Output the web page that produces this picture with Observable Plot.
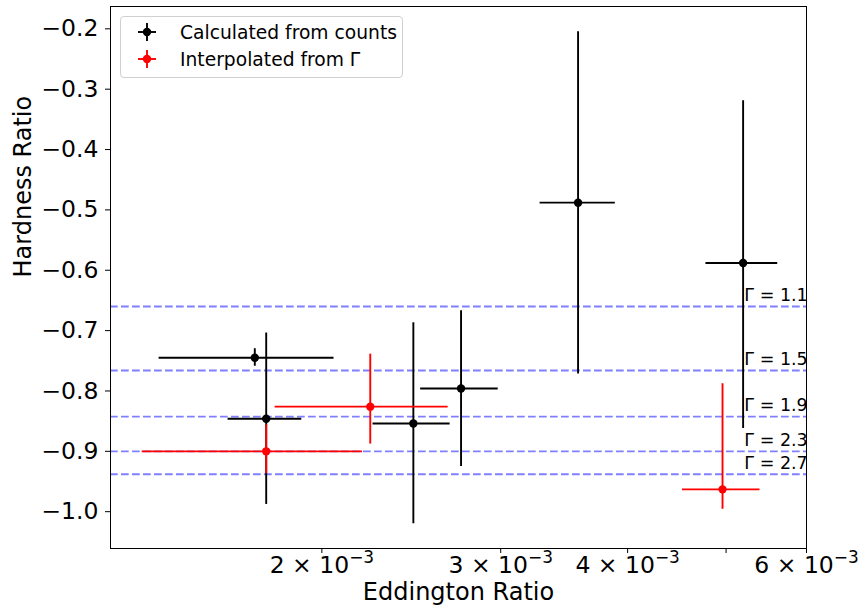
<!DOCTYPE html>
<html>
<head>
<meta charset="utf-8">
<script src="https://cdn.jsdelivr.net/npm/d3@7"></script>
<script src="https://cdn.jsdelivr.net/npm/@observablehq/plot@0.6"></script>
<style>
  body { margin: 0; background: #fff; }
  #wrap { position: relative; width: 859px; height: 610px; font-family: "DejaVu Sans", sans-serif; }
  #legend { position: absolute; left: 120px; top: 16px; width: 283px; height: 62px;
    border: 1px solid #d0d0d0; border-radius: 4px; background: rgba(255,255,255,0.85);
    box-sizing: border-box; font-size: 18.7px; color: #000; }
  .row { position: absolute; left: 0; height: 20px; display: flex; align-items: center; white-space: nowrap; }
  .row svg { margin-left: 16px; }
  .row span { margin-left: 23px; }
</style>
</head>
<body>
<div id="wrap">
  <div id="chart"></div>
  <div id="legend"></div>
</div>
<script>
// Calculated from counts (black)
const blackX   = [1.718e-3, 1.763e-3, 2.461e-3, 2.742e-3, 3.575e-3, 5.197e-3];
const blackXlo = [1.383e-3, 1.617e-3, 2.246e-3, 2.502e-3, 3.280e-3, 4.777e-3];
const blackXhi = [2.056e-3, 1.911e-3, 2.675e-3, 2.983e-3, 3.890e-3, 5.621e-3];
const blackY   = [-0.745, -0.846, -0.854, -0.796, -0.488, -0.588];
const blackYlo = [-0.759, -0.988, -1.020, -0.925, -0.772, -0.862];
const blackYhi = [-0.730, -0.704, -0.687, -0.667, -0.205, -0.319];

// Interpolated from Gamma (red)
const redX   = [1.763e-3, 2.232e-3, 4.960e-3];
const redXlo = [1.331e-3, 1.799e-3, 4.530e-3];
const redXhi = [2.193e-3, 2.663e-3, 5.400e-3];
const redY   = [-0.900, -0.826, -0.963];
const redYlo = [-0.937, -0.888, -0.996];
const redYhi = [-0.856, -0.739, -0.788];

// Photon index reference lines
const gammaLabels = ["Γ = 1.1", "Γ = 1.5", "Γ = 1.9", "Γ = 2.3", "Γ = 2.7"];
const gammaHR     = [-0.660, -0.766, -0.8425, -0.900, -0.938];
const gammaLabelX = 5.2e-3;

// Axis ticks
const xTicks = [2e-3, 3e-3, 4e-3, 5e-3, 6e-3];
const xTickMantissa = ["2", "3", "4", "", "6"];
const xTickExponent = "−3";
const yTicks = [-1.0, -0.9, -0.8, -0.7, -0.6, -0.5, -0.4, -0.3, -0.2];

const legendEntries = [
  {label: "Calculated from counts", color: "black"},
  {label: "Interpolated from Γ", color: "red"}
];

const toRows = (x, xlo, xhi, y, ylo, yhi) =>
  x.map((v, i) => ({x: v, xlo: xlo[i], xhi: xhi[i], y: y[i], ylo: ylo[i], yhi: yhi[i]}));
const black = toRows(blackX, blackXlo, blackXhi, blackY, blackYlo, blackYhi);
const red = toRows(redX, redXlo, redXhi, redY, redYlo, redYhi);
const gammas = gammaHR.map((v, i) => ({y: v, label: gammaLabels[i]}));

const errMarks = (rows, color) => [
  Plot.ruleY(rows, {y: "y", x1: "xlo", x2: "xhi", stroke: color, strokeWidth: 1.9}),
  Plot.ruleX(rows, {x: "x", y1: "ylo", y2: "yhi", stroke: color, strokeWidth: 1.9}),
  Plot.dot(rows, {x: "x", y: "y", r: 4.2, fill: color, stroke: "none"})
];

const xFormat = d => {
  const i = xTicks.findIndex(t => Math.abs(t - d) < 1e-9);
  return i >= 0 && xTickMantissa[i] ? `${xTickMantissa[i]} × 10^${xTickExponent}` : "";
};

const chart = Plot.plot({
  width: 859,
  height: 610,
  marginLeft: 110,
  marginRight: 53,
  marginTop: 6,
  marginBottom: 62,
  style: {fontFamily: "DejaVu Sans, sans-serif", fontSize: "23.5px", color: "#000", background: "#fff"},
  x: {type: "log", domain: [1.2387e-3, 6.0e-3]},
  y: {domain: [-1.061, -0.163]},
  marks: [
    Plot.ruleY(gammas, {y: "y", stroke: "blue", strokeOpacity: 0.5, strokeWidth: 1.9, strokeDasharray: "7.7,3.3"}),
    Plot.text(gammas, {x: () => gammaLabelX, y: "y", text: "label", textAnchor: "start", lineAnchor: "bottom", dx: 1, dy: -5.5, fontSize: 17.5, fill: "black"}),
    ...errMarks(black, "black"),
    ...errMarks(red, "red"),
    Plot.frame({stroke: "black", strokeWidth: 1}),
    Plot.axisX({ticks: xTicks, tickSize: 5, tickPadding: 3, label: null, tickFormat: xFormat}),
    Plot.axisY({ticks: yTicks, tickSize: 5, tickPadding: 7, label: null, tickFormat: d3.format(".1f")}),
    Plot.text(["Eddington Ratio"], {frameAnchor: "bottom", dy: 51, fontSize: 24, fill: "black"}),
    Plot.text(["Hardness Ratio"], {frameAnchor: "left", dx: -87, rotate: -90, fontSize: 24, fill: "black"})
  ]
});

// superscript exponent on the log-axis tick labels
d3.select(chart).selectAll('[aria-label="x-axis tick label"] text').each(function() {
  const t = this.textContent;
  if (t.includes("^")) {
    const [base, exp] = t.split("^");
    const sel = d3.select(this);
    sel.text(base);
    sel.append("tspan").attr("dy", "-10px").attr("font-size", "0.72em").text(exp);
  }
});

document.getElementById("chart").appendChild(chart);

// legend (inside the axes, upper left)
const leg = d3.select("#legend");
legendEntries.forEach((e, i) => {
  const row = leg.append("div").attr("class", "row").style("top", (5 + i * 27.3) + "px");
  const s = row.append("svg").attr("width", 20).attr("height", 20);
  s.append("line").attr("x1", 1).attr("x2", 19).attr("y1", 10).attr("y2", 10).attr("stroke", e.color).attr("stroke-width", 1.9);
  s.append("line").attr("x1", 10).attr("x2", 10).attr("y1", 1).attr("y2", 19).attr("stroke", e.color).attr("stroke-width", 1.9);
  s.append("circle").attr("cx", 10).attr("cy", 10).attr("r", 4.2).attr("fill", e.color);
  row.append("span").text(e.label);
});
</script>
</body>
</html>
